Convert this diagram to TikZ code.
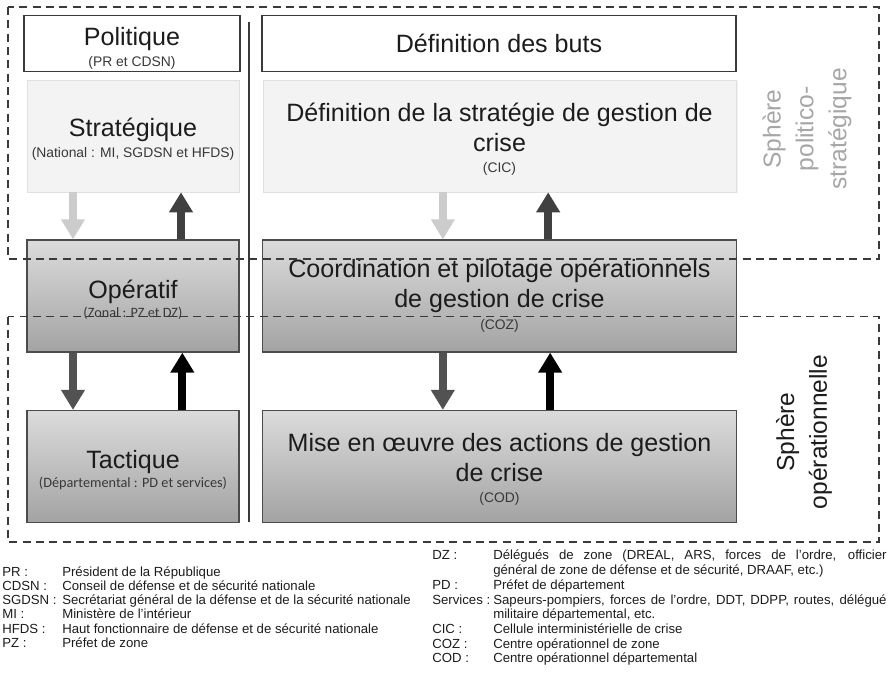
\documentclass[tikz,border=0pt]{standalone}
\usepackage{fontspec}
\setmainfont{Liberation Sans}
\newfontfamily\calfont{Carlito}
\usetikzlibrary{positioning, arrows.meta, shadows}

\definecolor{inkgray}{HTML}{1C1C1C}
\definecolor{framegray}{HTML}{3A3A3A}
\definecolor{paleblock}{HTML}{F3F3F3}

\newcommand{\bigtxt}{\fontsize{18.8}{22.5}\selectfont}
\newcommand{\subtxt}{\color{black!78}\fontsize{10.4}{12}\selectfont}
\newcommand{\calsub}{\color{black!78}\calfont\fontsize{10.7}{12}\selectfont}
\newcommand{\legtxt}{\fontsize{9.9}{10.9}\selectfont}
\newcommand{\padtop}[1]{\rule{0pt}{#1}}

\begin{document}
\begin{tikzpicture}[
    x=0.75pt, y=-0.75pt,
    text=inkgray,
    tier/.style={align=center, font=\bigtxt, inner sep=2pt, minimum height=84pt},
    leftcol/.style={minimum width=159pt},
    rightcol/.style={minimum width=355pt},
    goalbox/.style={tier, draw=framegray, line width=1.3pt, fill=white, inner sep=0pt, minimum height=42pt},
    stratbox/.style={tier, draw=black!12, fill=paleblock, drop shadow={opacity=0.12, shadow xshift=1pt, shadow yshift=-1pt}},
    gradbox/.style={tier, draw=black!70, line width=0.9pt, top color=black!14, bottom color=black!36},
    updown/.style={line width=6pt, -{Triangle[length=15pt, width=17pt]}},
    sphere/.style={dashed, dash pattern=on 6pt off 4pt, line width=1.1pt, draw=framegray},
    spherelbl/.style={rotate=90, align=center, font=\fontsize{18.4}{24.6}\selectfont},
    leg/.style={anchor=base west, inner sep=0pt, font=\legtxt}
]
    \useasboundingbox (0,0) rectangle (892,676);

    % Nodes
    \node[goalbox, minimum width=162pt] (polit) at (132,43.5) {\padtop{20.6pt}Politique\\[-7pt]{\subtxt (PR et CDSN)}};
    \node[goalbox, rightcol] (buts) at (499,43.5) {Définition des buts};

    \node[stratbox, leftcol] (strat) at (133,136) {\padtop{18.3pt}Stratégique\\[-6.5pt]{\subtxt (National : MI, SGDSN et HFDS)}};
    \node[stratbox, rightcol] (defstrat) at (499.5,136) {\padtop{19pt}Définition de la stratégie de gestion de\\crise\\[-7pt]{\subtxt (CIC)}};

    \node[gradbox, leftcol] (oper) at (133,296) {\padtop{19pt}Opératif\\[-8pt]{\calsub (Zonal : PZ et DZ)}};
    \node[gradbox, rightcol] (coord) at (499.5,296) {Coordination et pilotage opérationnels\\de gestion de crise\\[-6pt]{\subtxt (COZ)}};

    \node[gradbox, leftcol] (tact) at (133,466.5) {\padtop{19pt}Tactique\\[-8pt]{\calsub (Départemental : PD et services)}};
    \node[gradbox, rightcol] (mise) at (499.5,466.5) {\padtop{18.3pt}Mise en \oe uvre des actions de gestion\\de crise\\[-7pt]{\subtxt (COD)}};

    \coordinate (septop) at (249,22);
    \coordinate (sepbot) at (249,522);
    \draw[framegray, line width=1.1pt] (septop) -- (sepbot);

    % Connections
    \draw[updown, black!20] ([xshift=-45pt]strat.south) -- ([xshift=-45pt]oper.north);
    \draw[updown, black!75] ([xshift=36pt]oper.north) -- ([xshift=36pt]strat.south);
    \draw[updown, black!20] ([xshift=-42.5pt]defstrat.south) -- ([xshift=-42.5pt]coord.north);
    \draw[updown, black!75] ([xshift=36.5pt]coord.north) -- ([xshift=36.5pt]defstrat.south);

    \draw[updown, black!68] ([xshift=-45pt]oper.south) -- ([xshift=-45pt]tact.north);
    \draw[updown, black] ([xshift=37pt]tact.north) -- ([xshift=37pt]oper.south);
    \draw[updown, black!68] ([xshift=-42.5pt]coord.south) -- ([xshift=-42.5pt]mise.north);
    \draw[updown, black] ([xshift=38pt]mise.north) -- ([xshift=38pt]coord.south);

    % Spheres
    \draw[sphere] (8,7) rectangle (879,259);
    \draw[sphere] (8,316.5) rectangle (879,542);
    \node[spherelbl, text=black!35] (sphpol) at (807,129) {Sphère\\politico-\\stratégique};
    \node[spherelbl] (sphop) at (804,432) {Sphère\\opérationnelle};

    % Legend
    \foreach \ab/\txt/\y [count=\i] in {
        {PR :}/{Président de la République}/576.5,
        {CDSN :}/{Conseil de défense et de sécurité nationale}/590.5,
        {SGDSN :}/{Secrétariat général de la défense et de la sécurité nationale}/604.5,
        {MI :}/{Ministère de l'intérieur}/618.5,
        {HFDS :}/{Haut fonctionnaire de défense et de sécurité nationale}/633,
        {PZ :}/{Préfet de zone}/647.5}
    {
        \node[leg] (abl-\i) at (2,\y) {\ab};
        \node[leg] (defl-\i) at (62,\y) {\txt};
    }

    \node[leg] (ab-dz) at (432,559.5) {DZ :};
    \node[leg, text width=295pt, align=justify] (def-dz) at (493,559.5) {Délégués de zone (DREAL, ARS, forces de l'ordre, officier\linebreak général de zone de défense et de sécurité, DRAAF, etc.)};
    \node[leg] (ab-pd) at (432,589) {PD :};
    \node[leg] (def-pd) at (493,589) {Préfet de département};
    \node[leg] (ab-serv) at (432,604) {Services :};
    \node[leg, text width=295pt, align=justify] (def-serv) at (493,604) {Sapeurs-pompiers, forces de l'ordre, DDT, DDPP, routes, délégué\linebreak militaire départemental, etc.};
    \node[leg] (ab-cic) at (432,633.5) {CIC :};
    \node[leg] (def-cic) at (493,633.5) {Cellule interministérielle de crise};
    \node[leg] (ab-coz) at (432,648) {COZ :};
    \node[leg] (def-coz) at (493,648) {Centre opérationnel de zone};
    \node[leg] (ab-cod) at (432,662.5) {COD :};
    \node[leg] (def-cod) at (493,662.5) {Centre opérationnel départemental};
\end{tikzpicture}
\end{document}
